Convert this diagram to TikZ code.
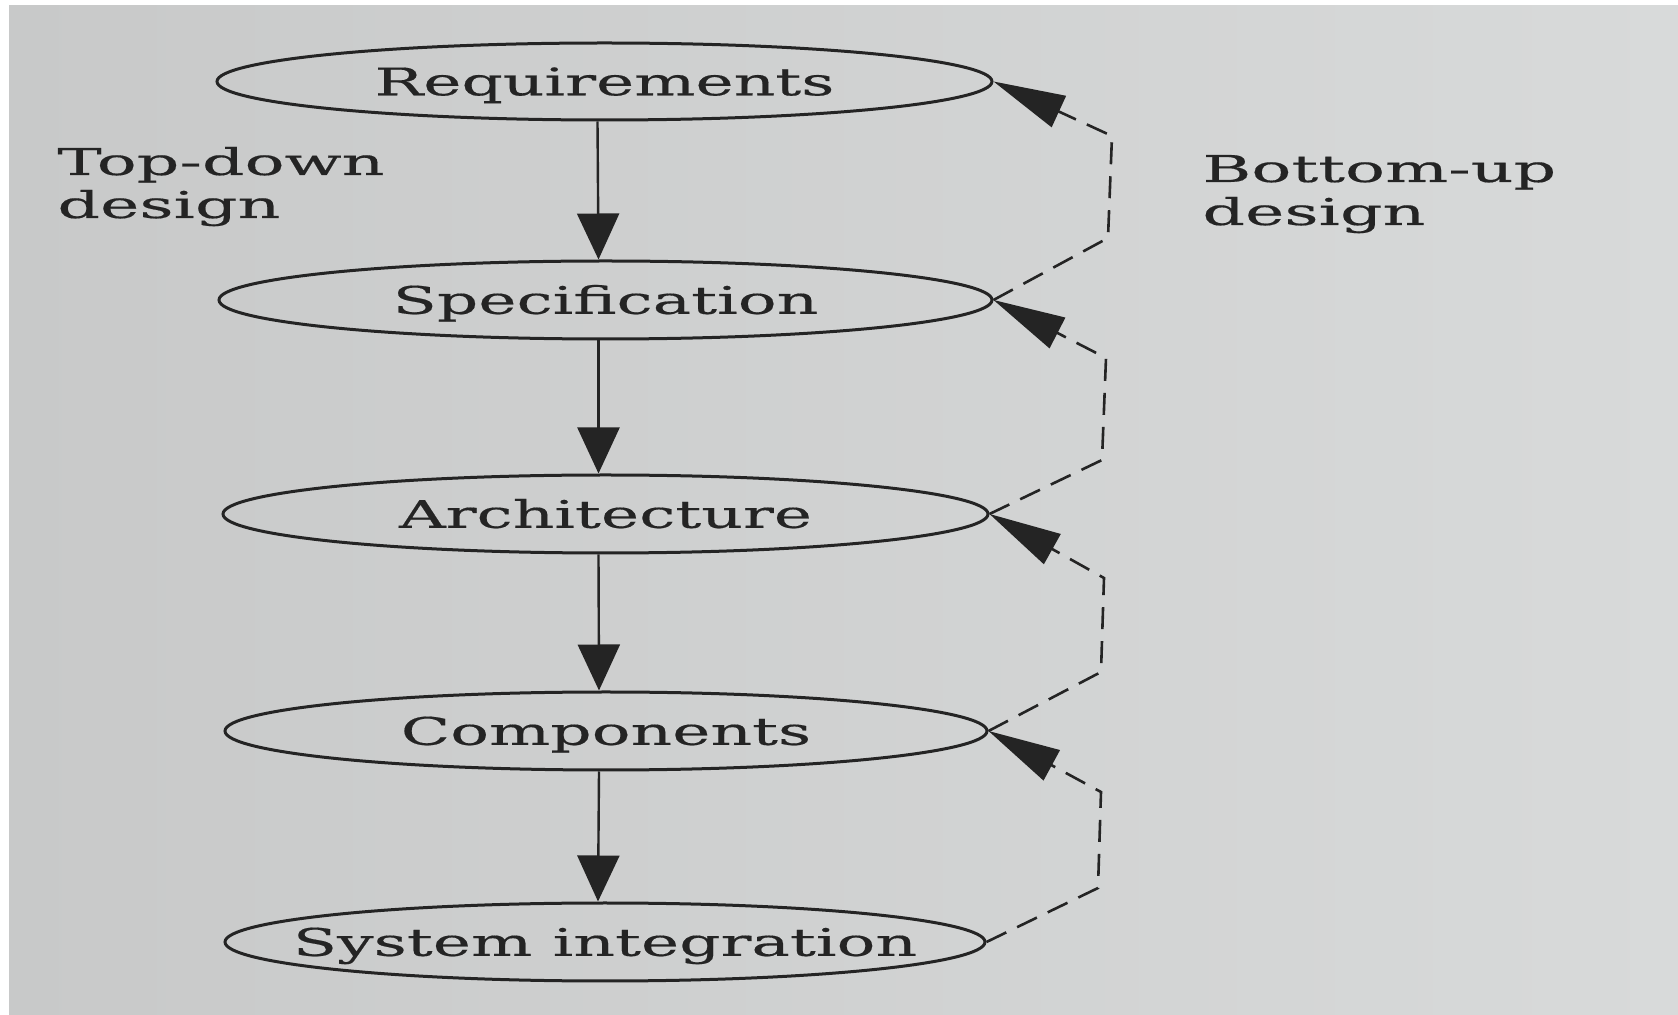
\documentclass[tikz,border=0pt]{standalone}
\usepackage{fontspec}
\newfontfamily\figfont{DejaVu Serif}[FakeStretch=1.7,FakeBold=0.4]
\newfontfamily\sidefont{DejaVu Serif}[FakeStretch=1.8,FakeBold=0.4]
\usetikzlibrary{shapes.geometric,arrows.meta}
\definecolor{ink}{RGB}{36,36,36}
\definecolor{paperL}{RGB}{200,201,201}
\definecolor{paperR}{RGB}{216,218,218}
\newcommand{\ctext}[1]{\makebox[0pt]{#1}}
\begin{document}
\begin{tikzpicture}[x=0.5pt,y=-0.5pt,
  stage/.style={ellipse, draw=ink, line width=1.5pt, inner sep=0pt, minimum height=39pt,
    text=ink, font=\figfont\fontsize{19}{22}\selectfont, text height=13.8pt, text depth=0pt},
  down/.style={draw=ink, line width=1.2pt, -{Triangle[length=23pt,width=21pt]}},
  up/.style={draw=ink, line width=1.3pt, dash pattern=on 11pt off 6pt, -{Triangle[length=36pt,width=17pt]}},
  side/.style={text=ink, font=\sidefont\fontsize{18.5}{21.5}\selectfont, align=left, inner sep=0pt},
]
\useasboundingbox (0,0) rectangle (1678,1015);
\fill[white] (0,0) rectangle (1678,1015);
\shade[left color=paperL, right color=paperR] (9,6) rectangle (1678,1015);

\node[stage, minimum width=387.5pt, minimum height=38.5pt] (req) at (604.5,81.5) {\ctext{Requirements}};
\node[stage, minimum width=386.5pt] (spec) at (605.5,300) {\ctext{Specification}};
\node[stage, minimum width=382.5pt] (arch) at (605.5,514) {\ctext{Architecture}};
\node[stage, minimum width=381pt] (comp) at (606,731) {\ctext{Components}};
\node[stage, minimum width=380pt] (si) at (605,942) {\ctext{System integration}};

\node[side, anchor=base west] (td) at (57,218) {Top-down\\design};
\node[side, anchor=base west] (bu) at (1202,225) {Bottom-up\\design};

\draw[down] ([xshift=-3.5]req.south) -- ([xshift=-3.5]spec.north);
\draw[down] ([xshift=-3.5]spec.south) -- ([xshift=-3.5]arch.north);
\draw[down] ([xshift=-3.5]arch.south) -- ([xshift=-3.5]comp.north);
\draw[down] ([xshift=-3.5]comp.south) -- ([xshift=-3.5]si.north);

\coordinate (b1) at (1108,238); \coordinate (t1) at (1112,136);
\coordinate (b2) at (1102,460); \coordinate (t2) at (1106,358);
\coordinate (b3) at (1101,672); \coordinate (t3) at (1104,578);
\coordinate (b4) at (1098,888); \coordinate (t4) at (1101,792);
\draw[up] (spec.east) -- (b1) -- (t1) -- (req.east);
\draw[up] (arch.east) -- (b2) -- (t2) -- (spec.east);
\draw[up] (comp.east) -- (b3) -- (t3) -- (arch.east);
\draw[up] (si.east) -- (b4) -- (t4) -- (comp.east);
\end{tikzpicture}
\end{document}
